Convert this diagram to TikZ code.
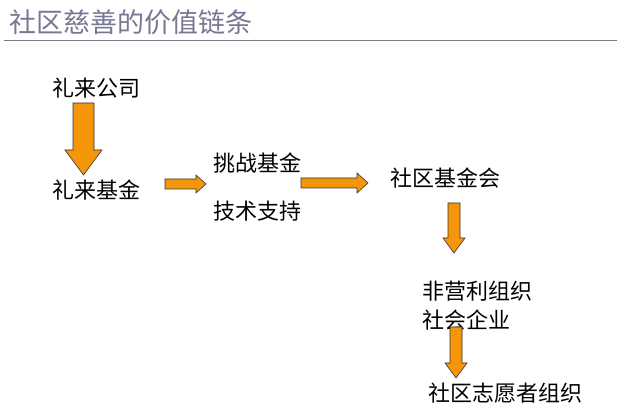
\documentclass[tikz,border=0pt]{standalone}
\usepackage{fontspec}
\setmainfont{Noto Sans CJK SC}
\begin{document}
\begin{tikzpicture}[x=1pt,y=-1pt,
  lbl/.style={anchor=west,inner sep=0pt,font=\fontsize{22}{24}\selectfont},
  blk/.style={fill={rgb,255:red,245;green,150;blue,10},draw=black!80,line width=0.6pt,line join=miter}]
\useasboundingbox (0,0) rectangle (621,411);
\fill[white] (0,0) rectangle (621,411);
\node[lbl,font=\fontsize{27}{30}\selectfont,text={rgb,255:red,120;green,120;blue,150}] (title) at (9,22) {社区慈善的价值链条};
\draw[line width=1pt,color={rgb,255:red,120;green,120;blue,135}] (4,41) -- (617,41);
\node[lbl] (a) at (52,88) {礼来公司};
\node[lbl] (b) at (52,190) {礼来基金};
\node[lbl] (c) at (213,163) {挑战基金};
\node[lbl] (d) at (213,211) {技术支持};
\node[lbl] (e) at (390,178) {社区基金会};
\node[lbl] (f) at (422,291) {非营利组织};
\node[lbl] (g) at (422,320) {社会企业};
\node[lbl] (h) at (428,393) {社区志愿者组织};
% down arrow 1
\draw[blk] (73,103) -- (94,103) -- (94,150) -- (102,150) -- (83.5,175) -- (65,150) -- (73,150) -- cycle;
% right arrow 2
\draw[blk] (165,179) -- (196,179) -- (196,175) -- (206,184) -- (196,193) -- (196,189) -- (165,189) -- cycle;
% right arrow 3
\draw[blk] (301,178) -- (357,178) -- (357,173) -- (368,183) -- (357,193) -- (357,188) -- (301,188) -- cycle;
% down arrow 4
\draw[blk] (448,203) -- (460,203) -- (460,238) -- (465,238) -- (454,253) -- (443,238) -- (448,238) -- cycle;
% down arrow 5
\draw[blk] (450,327) -- (462,327) -- (462,363) -- (467,363) -- (456,378) -- (445,363) -- (450,363) -- cycle;
\end{tikzpicture}
\end{document}
